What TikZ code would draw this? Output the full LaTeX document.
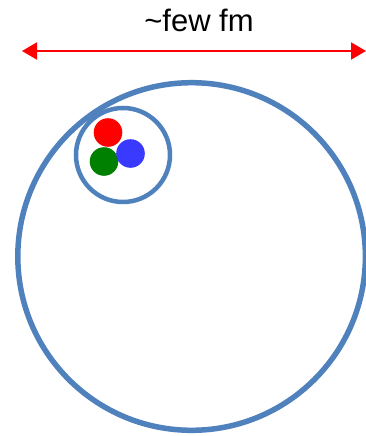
\documentclass[tikz,border=0pt]{standalone}
\usepackage{fontspec}
\setmainfont{Liberation Sans}
\usetikzlibrary{arrows.meta}
\definecolor{ringblue}{RGB}{79,129,189}
\definecolor{quarkblue}{RGB}{58,58,255}
\definecolor{quarkgreen}{RGB}{0,128,0}

\begin{document}
\begin{tikzpicture}[x=1pt, y=-1pt,
	ring/.style={circle, draw=ringblue, inner sep=0pt},
	quark/.style={circle, inner sep=0pt, minimum size=28.6pt}]
	\useasboundingbox (0,0) rectangle (366,436);
	% size label and arrow
	\node[font=\fontsize{31}{36}\selectfont, anchor=base] (lbl) at (199,32) {\char`\~few fm};
	\coordinate (aleft) at (22,51);
	\coordinate (aright) at (366,51);
	\draw[red, line width=2pt, {Triangle[length=15pt,width=17pt]}-{Triangle[length=15pt,width=17pt]}] (aleft) -- (aright);
	% nucleus and nucleon
	\node[ring, line width=5.5pt, minimum size=347.6pt] (nucleus) at (191.6,256.5) {};
	\node[ring, line width=4.5pt, minimum size=94pt] (nucleon) at (123,155) {};
	\node[quark, fill=red] (qr) at (108,132.5) {};
	\node[quark, fill=quarkgreen] (qg) at (104,161.5) {};
	\node[quark, fill=quarkblue] (qb) at (130.5,153.5) {};
\end{tikzpicture}
\end{document}
